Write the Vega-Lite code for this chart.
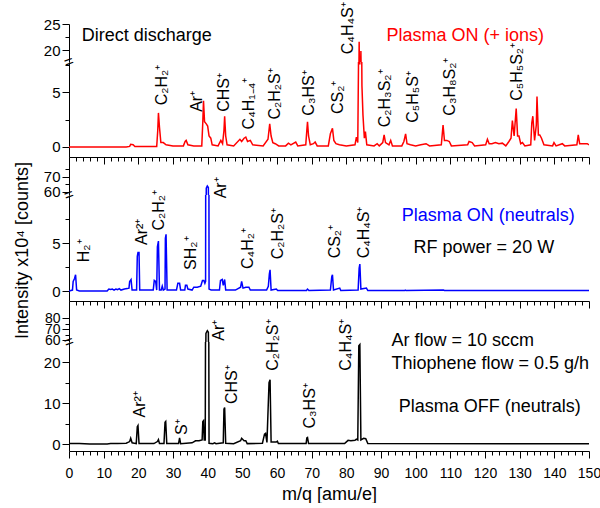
{
 "$schema": "https://vega.github.io/schema/vega-lite/v6.json",
 "padding": {"left": 12, "top": 2, "right": 0, "bottom": 0},
 "spacing": 0,
 "bounds": "flush",
 "config": {
  "font": "Liberation Sans",
  "view": {"stroke": null},
  "axis": {"grid": false, "domainColor": "black", "tickColor": "black", "labelColor": "black", "titleColor": "black", "titleFontWeight": "normal", "labelFontSize": 15, "labelPadding": 2, "labelOverlap": false, "labelFlush": false, "domainWidth": 1, "tickWidth": 1}
 },
 "datasets": {
  "red": [
   {"m":0,"v":0},{"m":16.5,"v":0},{"m":17.5,"v":0.05},{"m":17.8,"v":0.25},{"m":18.5,"v":0.2},{"m":19,"v":0.05},{"m":25.3,"v":0.05},{"m":25.6,"v":1.5},{"m":25.8,"v":3.1},{"m":26.1,"v":1.8},{"m":26.5,"v":0.4},{"m":27.2,"v":0.4},{"m":28,"v":0.2},{"m":30,"v":0.1},{"m":33,"v":0.1},{"m":33.5,"v":0.5},{"m":33.8,"v":0.6},{"m":34.3,"v":0.2},{"m":36,"v":0.1},{"m":38.3,"v":0.1},{"m":38.6,"v":2.3},{"m":38.8,"v":4.2},{"m":39.1,"v":2.3},{"m":39.6,"v":2.1},{"m":40,"v":1.9},{"m":40.4,"v":1.0},{"m":40.9,"v":0.8},{"m":41.3,"v":0.2},{"m":43,"v":0.1},{"m":43.8,"v":0.6},{"m":44.3,"v":0.3},{"m":44.7,"v":1.5},{"m":44.9,"v":2.8},{"m":45.2,"v":1.0},{"m":45.6,"v":0.2},{"m":47.5,"v":0.1},{"m":49.3,"v":0.7},{"m":49.8,"v":0.5},{"m":50.5,"v":0.8},{"m":51,"v":0.9},{"m":51.5,"v":0.5},{"m":52.3,"v":0.6},{"m":53,"v":0.2},{"m":56,"v":0.1},{"m":57.4,"v":0.7},{"m":57.9,"v":2.1},{"m":58.3,"v":1.0},{"m":58.8,"v":0.4},{"m":59.5,"v":0.3},{"m":60.5,"v":0.1},{"m":62.5,"v":0.1},{"m":63.3,"v":0.35},{"m":64,"v":0.2},{"m":65.4,"v":0.45},{"m":66,"v":0.1},{"m":68.3,"v":0.2},{"m":68.6,"v":1.5},{"m":68.8,"v":2.3},{"m":69.1,"v":1.0},{"m":69.6,"v":0.2},{"m":70.5,"v":0.3},{"m":71,"v":0.45},{"m":71.6,"v":0.1},{"m":74.8,"v":0.1},{"m":75.4,"v":1.2},{"m":76,"v":1.7},{"m":76.4,"v":0.6},{"m":77,"v":0.3},{"m":78,"v":0.2},{"m":80,"v":0.1},{"m":82.5,"v":0.2},{"m":82.9,"v":0.9},{"m":83.3,"v":0.4},{"m":83.5,"v":7.2},{"m":83.7,"v":21.6},{"m":83.9,"v":7.5},{"m":84.2,"v":19.8},{"m":84.5,"v":5.6},{"m":84.8,"v":2.9},{"m":85.2,"v":0.8},{"m":85.5,"v":1.4},{"m":85.9,"v":0.2},{"m":88,"v":0.1},{"m":88.9,"v":0.3},{"m":89.5,"v":0.1},{"m":90.5,"v":0.4},{"m":90.9,"v":1.1},{"m":91.3,"v":0.4},{"m":92.3,"v":0.2},{"m":92.8,"v":0.6},{"m":93.3,"v":0.1},{"m":96,"v":0.1},{"m":96.6,"v":0.5},{"m":97.1,"v":1.2},{"m":97.5,"v":0.3},{"m":98.5,"v":0.2},{"m":100,"v":0.1},{"m":101.5,"v":0.2},{"m":103,"v":0.3},{"m":104,"v":0.1},{"m":107.4,"v":0.2},{"m":107.9,"v":2.0},{"m":108.3,"v":0.6},{"m":109,"v":0.6},{"m":109.7,"v":0.5},{"m":110.3,"v":0.1},{"m":115,"v":0.2},{"m":115.4,"v":0.5},{"m":116.3,"v":0.4},{"m":117,"v":0.1},{"m":120.2,"v":0.2},{"m":120.7,"v":0.7},{"m":121.2,"v":0.3},{"m":122,"v":0.3},{"m":123,"v":0.4},{"m":124,"v":0.3},{"m":125,"v":0.35},{"m":126,"v":0.1},{"m":126.9,"v":0.5},{"m":127.5,"v":0.8},{"m":127.9,"v":2.4},{"m":128.4,"v":1.0},{"m":129,"v":3.5},{"m":129.4,"v":1.0},{"m":129.8,"v":1.0},{"m":130.3,"v":0.3},{"m":130.8,"v":0.4},{"m":131.5,"v":0.1},{"m":133.2,"v":0.2},{"m":133.5,"v":2.2},{"m":133.8,"v":2.8},{"m":134.3,"v":0.6},{"m":134.8,"v":2.0},{"m":135,"v":4.6},{"m":135.4,"v":1.1},{"m":135.8,"v":1.1},{"m":136.3,"v":0.8},{"m":137,"v":0.2},{"m":139.5,"v":0.1},{"m":139.9,"v":0.4},{"m":140.5,"v":0.1},{"m":142.3,"v":0.3},{"m":143,"v":0.1},{"m":146.5,"v":0.2},{"m":146.9,"v":1.1},{"m":147.3,"v":0.3},{"m":148,"v":0.3},{"m":149.5,"v":0.3},{"m":150,"v":0.2}
  ],
  "blue": [
   {"m":0,"v":0},{"m":1,"v":0.1},{"m":1.2,"v":1.0},{"m":1.6,"v":1.3},{"m":1.9,"v":1.7},{"m":2.2,"v":0.1},{"m":3,"v":0},{"m":11,"v":0},{"m":11.5,"v":0.2},{"m":12,"v":0.15},{"m":12.5,"v":0.2},{"m":13,"v":0.1},{"m":13.5,"v":0.2},{"m":14,"v":0.15},{"m":14.5,"v":0.25},{"m":15,"v":0.1},{"m":16,"v":0.2},{"m":16.8,"v":0.25},{"m":17.3,"v":0.3},{"m":17.5,"v":1.0},{"m":17.9,"v":1.2},{"m":18.2,"v":0.1},{"m":19.5,"v":0.1},{"m":19.7,"v":3.6},{"m":19.9,"v":4.0},{"m":20.2,"v":4.0},{"m":20.4,"v":0.1},{"m":24.3,"v":0.1},{"m":24.6,"v":1.1},{"m":25,"v":1.0},{"m":25.3,"v":0.1},{"m":25.5,"v":4.6},{"m":25.8,"v":5.2},{"m":26.1,"v":0.1},{"m":26.6,"v":0.1},{"m":26.9,"v":0.5},{"m":27.2,"v":0.1},{"m":27.7,"v":0.2},{"m":27.8,"v":5.5},{"m":28,"v":5.9},{"m":28.3,"v":0.1},{"m":31,"v":0.1},{"m":31.4,"v":0.8},{"m":31.9,"v":0.8},{"m":32.2,"v":0.1},{"m":33.4,"v":0.1},{"m":33.6,"v":0.6},{"m":34,"v":0.6},{"m":34.3,"v":0.2},{"m":35.5,"v":0.1},{"m":36,"v":0.4},{"m":37,"v":0.4},{"m":38,"v":0.5},{"m":38.5,"v":1.1},{"m":38.9,"v":1.1},{"m":39.2,"v":0.8},{"m":39.4,"v":1.0},{"m":39.6,"v":62.5},{"m":39.9,"v":64},{"m":40.2,"v":63},{"m":40.4,"v":0.2},{"m":41,"v":0.1},{"m":43.4,"v":0.1},{"m":43.7,"v":1.1},{"m":44.2,"v":1.2},{"m":44.5,"v":0.6},{"m":44.9,"v":1.2},{"m":45.2,"v":0.1},{"m":48,"v":0.1},{"m":49.5,"v":0.4},{"m":49.8,"v":1.0},{"m":50.2,"v":0.3},{"m":51,"v":0.4},{"m":51.9,"v":0.4},{"m":52.3,"v":0.1},{"m":57,"v":0.1},{"m":57.5,"v":0.5},{"m":57.8,"v":1.8},{"m":58,"v":2.2},{"m":58.3,"v":0.1},{"m":59.8,"v":0.2},{"m":60.2,"v":0.05},{"m":68.5,"v":0.05},{"m":68.8,"v":0.2},{"m":69.2,"v":0.05},{"m":75.4,"v":0.1},{"m":75.8,"v":1.5},{"m":76,"v":1.7},{"m":76.3,"v":0.1},{"m":78.1,"v":0.3},{"m":78.4,"v":0.05},{"m":83.4,"v":0.1},{"m":83.7,"v":2.4},{"m":83.9,"v":2.8},{"m":84.2,"v":0.2},{"m":85.8,"v":0.3},{"m":86.2,"v":0.05},{"m":96.8,"v":0.05},{"m":97,"v":0.1},{"m":97.2,"v":0.05},{"m":108,"v":0.1},{"m":108.3,"v":0.05},{"m":150,"v":0.05}
  ],
  "black": [
   {"m":0,"v":0.1},{"m":3,"v":0.1},{"m":6,"v":0},{"m":11,"v":0},{"m":12,"v":0.1},{"m":14,"v":0.1},{"m":16.5,"v":0.2},{"m":17.5,"v":0.6},{"m":17.8,"v":1.4},{"m":18.2,"v":0.3},{"m":19.4,"v":0.1},{"m":19.7,"v":4.2},{"m":19.9,"v":4.5},{"m":20.2,"v":0.1},{"m":24.5,"v":0.1},{"m":25.5,"v":0.6},{"m":25.8,"v":1.1},{"m":26.1,"v":0.1},{"m":27.4,"v":0.1},{"m":27.7,"v":5.3},{"m":27.9,"v":5.5},{"m":28.2,"v":0.1},{"m":31.6,"v":0.1},{"m":31.9,"v":1.5},{"m":32.2,"v":0.1},{"m":35.5,"v":0.3},{"m":36.5,"v":0.8},{"m":37.5,"v":0.8},{"m":38.4,"v":1.0},{"m":38.6,"v":5.5},{"m":38.8,"v":5.7},{"m":39,"v":1.0},{"m":39.3,"v":1.0},{"m":39.5,"v":66},{"m":39.9,"v":68.5},{"m":40.2,"v":67},{"m":40.4,"v":0.2},{"m":41.5,"v":0.1},{"m":42,"v":0.3},{"m":42.4,"v":0.1},{"m":44.5,"v":0.3},{"m":44.7,"v":8.5},{"m":44.9,"v":8.9},{"m":45.2,"v":0.2},{"m":47.5,"v":0.1},{"m":49.5,"v":0.8},{"m":49.8,"v":1.4},{"m":50.5,"v":0.8},{"m":51,"v":0.8},{"m":51.4,"v":0.1},{"m":55.8,"v":0.2},{"m":56.4,"v":2.4},{"m":56.7,"v":2.6},{"m":57.1,"v":0.4},{"m":57.7,"v":15},{"m":58,"v":15.7},{"m":58.3,"v":0.5},{"m":59.8,"v":0.5},{"m":60.1,"v":0.7},{"m":60.4,"v":0.1},{"m":68.4,"v":0.1},{"m":68.6,"v":1.5},{"m":68.8,"v":1.6},{"m":69.1,"v":0.1},{"m":79.5,"v":0.1},{"m":80.5,"v":0.9},{"m":81.3,"v":0.8},{"m":82.5,"v":0.9},{"m":82.9,"v":1.2},{"m":83.3,"v":1.0},{"m":83.6,"v":24},{"m":83.9,"v":24.3},{"m":84.2,"v":1.0},{"m":85,"v":1.4},{"m":85.6,"v":1.3},{"m":86.2,"v":0.1},{"m":150,"v":0.05}
  ]
 },
 "vconcat": [
  {
   "width": 520, "height": 38,
   "encoding": {
    "x": {"field": "m", "type": "quantitative", "scale": {"domain": [0, 150], "nice": false, "zero": false}, "axis": null},
    "y": {"field": "v", "type": "quantitative", "scale": {"domain": [17.7, 25], "nice": false, "zero": false},
          "axis": {"values": [20, 22.5, 25], "title": null, "labelExpr": "datum.value % 5 === 0 ? datum.label : ''", "tickSize": {"condition": {"test": "datum.value % 5 === 0", "value": 7}, "value": 4}}}
   },
   "layer": [
    {"data": {"name": "red"}, "mark": {"type": "line", "color": "#ff0000", "strokeWidth": 1.5, "clip": true}},
    {"data": {"values": [{"m": 80.6, "v": 19.2, "t": "C₄H₄S⁺"}]}, "mark": {"type": "text", "angle": 270, "align": "left", "baseline": "middle", "fontSize": 16, "color": "black"}, "encoding": {"text": {"field": "t"}}},
    {"data": {"values": [{"m": 3.7, "v": 21.8, "t": "Direct discharge"}]}, "mark": {"type": "text", "align": "left", "baseline": "alphabetic", "fontSize": 18, "color": "black"}, "encoding": {"text": {"field": "t"}}},
    {"data": {"values": [{"m": 91.6, "v": 21.8, "t": "Plasma ON (+ ions)"}]}, "mark": {"type": "text", "align": "left", "baseline": "alphabetic", "fontSize": 18, "color": "#ff0000"}, "encoding": {"text": {"field": "t"}}}
   ]
  },
  {
   "width": 520, "height": 95,
   "encoding": {
    "x": {"field": "m", "type": "quantitative", "scale": {"domain": [0, 150], "nice": false, "zero": false},
          "axis": {"values": [0,2,4,6,8,10,12,14,16,18,20,22,24,26,28,30,32,34,36,38,40,42,44,46,48,50,52,54,56,58,60,62,64,66,68,70,72,74,76,78,80,82,84,86,88,90,92,94,96,98,100,102,104,106,108,110,112,114,116,118,120,122,124,126,128,130,132,134,136,138,140,142,144,146,148,150], "labels": false, "title": null, "tickSize": {"condition": {"test": "datum.value % 10 === 0", "value": 7}, "value": 4}}},
    "y": {"field": "v", "type": "quantitative", "scale": {"domain": [-0.91, 7.73], "nice": false, "zero": false},
          "axis": {"values": [0, 2.5, 5, 7.5], "title": null, "labelExpr": "datum.value % 5 === 0 ? datum.label : ''", "tickSize": {"condition": {"test": "datum.value % 5 === 0", "value": 7}, "value": 4}}}
   },
   "layer": [
    {"data": {"name": "red"}, "mark": {"type": "line", "color": "#ff0000", "strokeWidth": 1.5, "clip": true}},
    {"data": {"values": [
      {"m": 26.8, "v": 3.8, "t": "C₂H₂⁺"},
      {"m": 36.9, "v": 3.2, "t": "Ar⁺"},
      {"m": 44.7, "v": 3.2, "t": "CHS⁺"},
      {"m": 51.8, "v": 1.6, "t": "C₄H₁₋₄⁺"},
      {"m": 59.5, "v": 2.5, "t": "C₂H₂S⁺"},
      {"m": 69.1, "v": 2.85, "t": "C₃HS⁺"},
      {"m": 77.5, "v": 3.0, "t": "CS₂⁺"},
      {"m": 91.1, "v": 1.8, "t": "C₂H₃S₂⁺"},
      {"m": 99.1, "v": 2.2, "t": "C₅H₅S⁺"},
      {"m": 110.0, "v": 2.85, "t": "C₃H₈S₂⁺"},
      {"m": 129.2, "v": 4.2, "t": "C₅H₅S₂⁺"}
     ]}, "mark": {"type": "text", "angle": 270, "align": "left", "baseline": "middle", "fontSize": 16, "color": "black"}, "encoding": {"text": {"field": "t"}}},
    {"data": {"values": [{"m": 0, "v": 7.73, "t": "="}]}, "mark": {"type": "text", "angle": 340, "align": "center", "baseline": "middle", "fontSize": 16, "color": "black"}, "encoding": {"text": {"field": "t"}}}
   ]
  },
  {
   "width": 520, "height": 38,
   "encoding": {
    "x": {"field": "m", "type": "quantitative", "scale": {"domain": [0, 150], "nice": false, "zero": false}, "axis": null},
    "y": {"field": "v", "type": "quantitative", "scale": {"domain": [58, 83.3], "nice": false, "zero": false},
          "axis": {"values": [60, 65, 70, 75], "title": null, "labelExpr": "datum.value % 10 === 0 ? datum.label : ''", "tickSize": {"condition": {"test": "datum.value % 10 === 0", "value": 7}, "value": 4}}}
   },
   "layer": [
    {"data": {"name": "blue"}, "mark": {"type": "line", "color": "#0000ff", "strokeWidth": 1.5, "clip": true}}
   ]
  },
  {
   "width": 520, "height": 106,
   "encoding": {
    "x": {"field": "m", "type": "quantitative", "scale": {"domain": [0, 150], "nice": false, "zero": false},
          "axis": {"values": [0,2,4,6,8,10,12,14,16,18,20,22,24,26,28,30,32,34,36,38,40,42,44,46,48,50,52,54,56,58,60,62,64,66,68,70,72,74,76,78,80,82,84,86,88,90,92,94,96,98,100,102,104,106,108,110,112,114,116,118,120,122,124,126,128,130,132,134,136,138,140,142,144,146,148,150], "labels": false, "title": null, "tickSize": {"condition": {"test": "datum.value % 10 === 0", "value": 7}, "value": 4}}},
    "y": {"field": "v", "type": "quantitative", "scale": {"domain": [-1.04, 10], "nice": false, "zero": false},
          "axis": {"values": [0, 2.5, 5, 7.5], "labelExpr": "datum.value % 5 === 0 ? datum.label : ''", "tickSize": {"condition": {"test": "datum.value % 5 === 0", "value": 7}, "value": 4},
                   "title": "Intensity  x10⁴ [counts]", "titleFontSize": 18, "titleAngle": 270, "titleX": -47, "titleY": 55, "titleAlign": "center", "titleBaseline": "middle"}}
   },
   "layer": [
    {"data": {"name": "blue"}, "mark": {"type": "line", "color": "#0000ff", "strokeWidth": 1.5, "clip": true}},
    {"data": {"values": [
      {"m": 4.3, "v": 3.0, "t": "H₂⁺"},
      {"m": 21.1, "v": 4.8, "t": "Ar²⁺"},
      {"m": 25.9, "v": 6.3, "t": "C₂H₂⁺"},
      {"m": 35.1, "v": 2.2, "t": "SH₂⁺"},
      {"m": 43.9, "v": 9.65, "t": "Ar⁺"},
      {"m": 51.7, "v": 2.3, "t": "C₄H₂⁺"},
      {"m": 60.3, "v": 3.3, "t": "C₂H₂S⁺"},
      {"m": 76.8, "v": 3.4, "t": "CS₂⁺"},
      {"m": 85.0, "v": 3.4, "t": "C₄H₄S⁺"}
     ]}, "mark": {"type": "text", "angle": 270, "align": "left", "baseline": "middle", "fontSize": 16, "color": "black"}, "encoding": {"text": {"field": "t"}}},
    {"data": {"values": [{"m": 96.0, "v": 7.3, "t": "Plasma ON (neutrals)"}]}, "mark": {"type": "text", "align": "left", "baseline": "alphabetic", "fontSize": 18, "color": "#0000ff"}, "encoding": {"text": {"field": "t"}}},
    {"data": {"values": [{"m": 99.4, "v": 3.95, "t": "RF power = 20 W"}]}, "mark": {"type": "text", "align": "left", "baseline": "alphabetic", "fontSize": 18, "color": "black"}, "encoding": {"text": {"field": "t"}}},
    {"data": {"values": [{"m": 0, "v": 10, "t": "="}]}, "mark": {"type": "text", "angle": 340, "align": "center", "baseline": "middle", "fontSize": 16, "color": "black"}, "encoding": {"text": {"field": "t"}}}
   ]
  },
  {
   "width": 520, "height": 41,
   "encoding": {
    "x": {"field": "m", "type": "quantitative", "scale": {"domain": [0, 150], "nice": false, "zero": false}, "axis": null},
    "y": {"field": "v", "type": "quantitative", "scale": {"domain": [58.2, 95.5], "nice": false, "zero": false},
          "axis": {"values": [60, 65, 70, 75, 80], "title": null, "labelFontSize": 14, "labelExpr": "datum.value % 10 === 0 ? datum.label : ''", "tickSize": {"condition": {"test": "datum.value % 10 === 0", "value": 7}, "value": 4}}}
   },
   "layer": [
    {"data": {"name": "black"}, "mark": {"type": "line", "color": "#000000", "strokeWidth": 1.5, "clip": true}}
   ]
  },
  {
   "width": 520, "height": 109,
   "encoding": {
    "x": {"field": "m", "type": "quantitative", "scale": {"domain": [0, 150], "nice": false, "zero": false},
          "axis": {"values": [0,2,4,6,8,10,12,14,16,18,20,22,24,26,28,30,32,34,36,38,40,42,44,46,48,50,52,54,56,58,60,62,64,66,68,70,72,74,76,78,80,82,84,86,88,90,92,94,96,98,100,102,104,106,108,110,112,114,116,118,120,122,124,126,128,130,132,134,136,138,140,142,144,146,148,150], "labelExpr": "datum.value % 10 === 0 ? datum.label : ''", "labelFontSize": 14, "labelPadding": 8, "tickSize": {"condition": {"test": "datum.value % 10 === 0", "value": 7}, "value": 4},
                   "title": "m/q [amu/e]", "titleFontSize": 18, "titlePadding": 5}},
    "y": {"field": "v", "type": "quantitative", "scale": {"domain": [-1.7, 24.9], "nice": false, "zero": false},
          "axis": {"values": [0, 5, 10, 15, 20], "title": null, "labelExpr": "datum.value % 10 === 0 ? datum.label : ''", "tickSize": {"condition": {"test": "datum.value % 10 === 0", "value": 7}, "value": 4}}}
   },
   "layer": [
    {"data": {"name": "black"}, "mark": {"type": "line", "color": "#000000", "strokeWidth": 1.5, "clip": true}},
    {"data": {"values": [
      {"m": 20.6, "v": 6.5, "t": "Ar²⁺"},
      {"m": 32.6, "v": 2.2, "t": "S⁺"},
      {"m": 43.3, "v": 25.2, "t": "Ar⁺"},
      {"m": 46.9, "v": 9.75, "t": "CHS⁺"},
      {"m": 58.8, "v": 17.9, "t": "C₂H₂S⁺"},
      {"m": 69.6, "v": 3.8, "t": "C₃HS⁺"},
      {"m": 79.9, "v": 17.9, "t": "C₄H₄S⁺"}
     ]}, "mark": {"type": "text", "angle": 270, "align": "left", "baseline": "middle", "fontSize": 16, "color": "black"}, "encoding": {"text": {"field": "t"}}},
    {"data": {"values": [
      {"m": 93.0, "v": 24.0, "t": "Ar flow = 10 sccm"},
      {"m": 93.0, "v": 18.3, "t": "Thiophene flow = 0.5 g/h"},
      {"m": 95.1, "v": 7.9, "t": "Plasma OFF (neutrals)"}
     ]}, "mark": {"type": "text", "align": "left", "baseline": "alphabetic", "fontSize": 18, "color": "black"}, "encoding": {"text": {"field": "t"}}},
    {"data": {"values": [{"m": 0, "v": 24.9, "t": "="}]}, "mark": {"type": "text", "angle": 340, "align": "center", "baseline": "middle", "fontSize": 16, "color": "black"}, "encoding": {"text": {"field": "t"}}}
   ]
  }
 ]
}
